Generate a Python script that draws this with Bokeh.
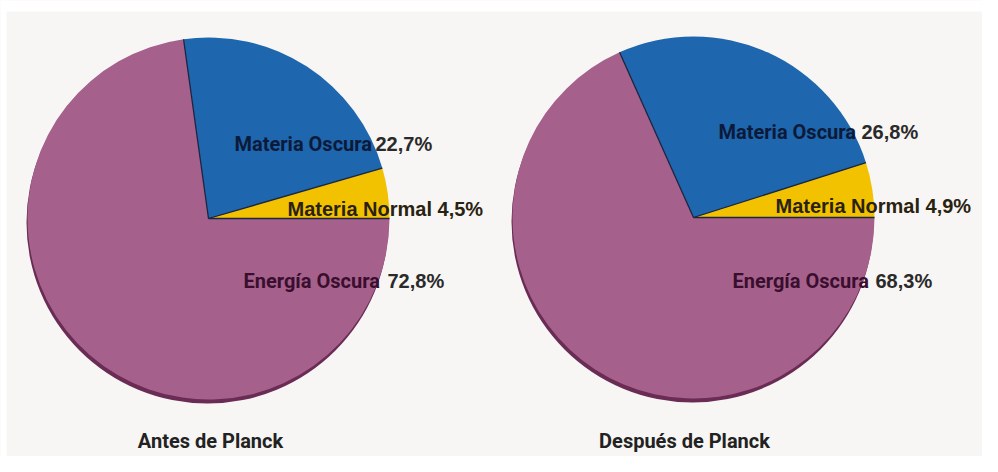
import numpy as np
from bokeh.plotting import figure
from bokeh.models import Range1d, ColumnDataSource
from bokeh.core.properties import value
from bokeh.embed import file_html
from bokeh.resources import INLINE

# ---------------- data ----------------
categories = ["Materia Normal", "Materia Oscura", "Energía Oscura"]
antes = [4.5, 22.7, 72.8]
despues = [4.9, 26.8, 68.3]
pct_antes = ["4,5%", "22,7%", "72,8%"]
pct_despues = ["4,9%", "26,8%", "68,3%"]
titles = ["Antes de Planck", "Después de Planck"]

# ---------------- style / layout ----------------
colors = ["#f2c200", "#1e66ad", "#a5618b"]
name_colors = ["#2a2210", "#0c1a3a", "#3a0e2e"]
pct_color = "#2a2a2a"
H = 472  # reference picture height (px) -> data y = H - y_px
centers = [(208, 218), (693, 217)]
radius = 181
# label offsets (dx name, dx pct, dy text middle) relative to centre, per slice
label_offsets = [
    [(79, None, -9.5), (26, 167, -74.5), (35, 179, 62.5)],
    [(82, None, -12), (25, 168, -85.5), (39, 182, 63)],
]
title_pos = [(210, 440), (684, 440)]

p = figure(width=982, height=456, x_range=Range1d(0, 982), y_range=Range1d(H - 456, H),
           output_backend="svg", toolbar_location=None, min_border=0,
           background_fill_color="#f7f6f4", border_fill_color="#f7f6f4")
p.outline_line_color = None
p.axis.visible = False
p.grid.visible = False

# white strips at top and left like the reference
p.quad(left=[0], right=[982], top=[H], bottom=[H - 11], fill_color="white", line_color=None)
p.quad(left=[0], right=[6], top=[H], bottom=[H - 472], fill_color="white", line_color=None)

for k, (vals, pcts) in enumerate([(antes, pct_antes), (despues, pct_despues)]):
    cx, cy = centers[k]
    x0, y0 = cx, H - cy
    frac = np.array(vals) / np.sum(vals)
    ends = np.cumsum(frac) * 2 * np.pi
    starts = np.concatenate([[0.0], ends[:-1]])

    # 3D-ish shadow
    p.circle(x=[x0 - 1], y=[y0 - 4], radius=radius, fill_color="#6a2b54", line_color=None)

    src = ColumnDataSource(dict(x=[x0] * 3, y=[y0] * 3, start=starts, end=ends, color=colors))
    p.wedge(x="x", y="y", radius=radius, start_angle="start", end_angle="end",
            fill_color="color", line_color=None, source=src)

    # radial separators
    bounds = starts
    p.segment(x0=[x0] * 3, y0=[y0] * 3,
              x1=list(x0 + radius * np.cos(bounds)), y1=list(y0 + radius * np.sin(bounds)),
              line_color="#1c2640", line_width=1.3)

    # labels
    for i, cat in enumerate(categories):
        dxn, dxp, dy = label_offsets[k][i]
        yb = H - (cy + dy)
        if i == 0:
            p.text(x=[x0 + dxn], y=[yb], text=[f"{cat} {pcts[i]}"],
                   text_font=value("Liberation Sans"), text_font_style="bold",
                   text_font_size="20px", text_color=name_colors[i],
                   text_baseline="middle", text_align="left")
        else:
            p.text(x=[x0 + dxn], y=[yb], text=[cat],
                   text_font=value("Roboto"), text_font_style="bold",
                   text_font_size="20px", text_color=name_colors[i],
                   text_baseline="middle", text_align="left")
            p.text(x=[x0 + dxp], y=[yb], text=[pcts[i]],
                   text_font=value("Liberation Sans"), text_font_style="bold",
                   text_font_size="20px", text_color=pct_color,
                   text_baseline="middle", text_align="left")

    tx, ty = title_pos[k]
    p.text(x=[tx], y=[H - ty], text=[titles[k]],
           text_font=value("Roboto"), text_font_style="bold",
           text_font_size="20px", text_color="#222222",
           text_baseline="middle", text_align="center")

open("out.html", "w").write(file_html(p, INLINE))
